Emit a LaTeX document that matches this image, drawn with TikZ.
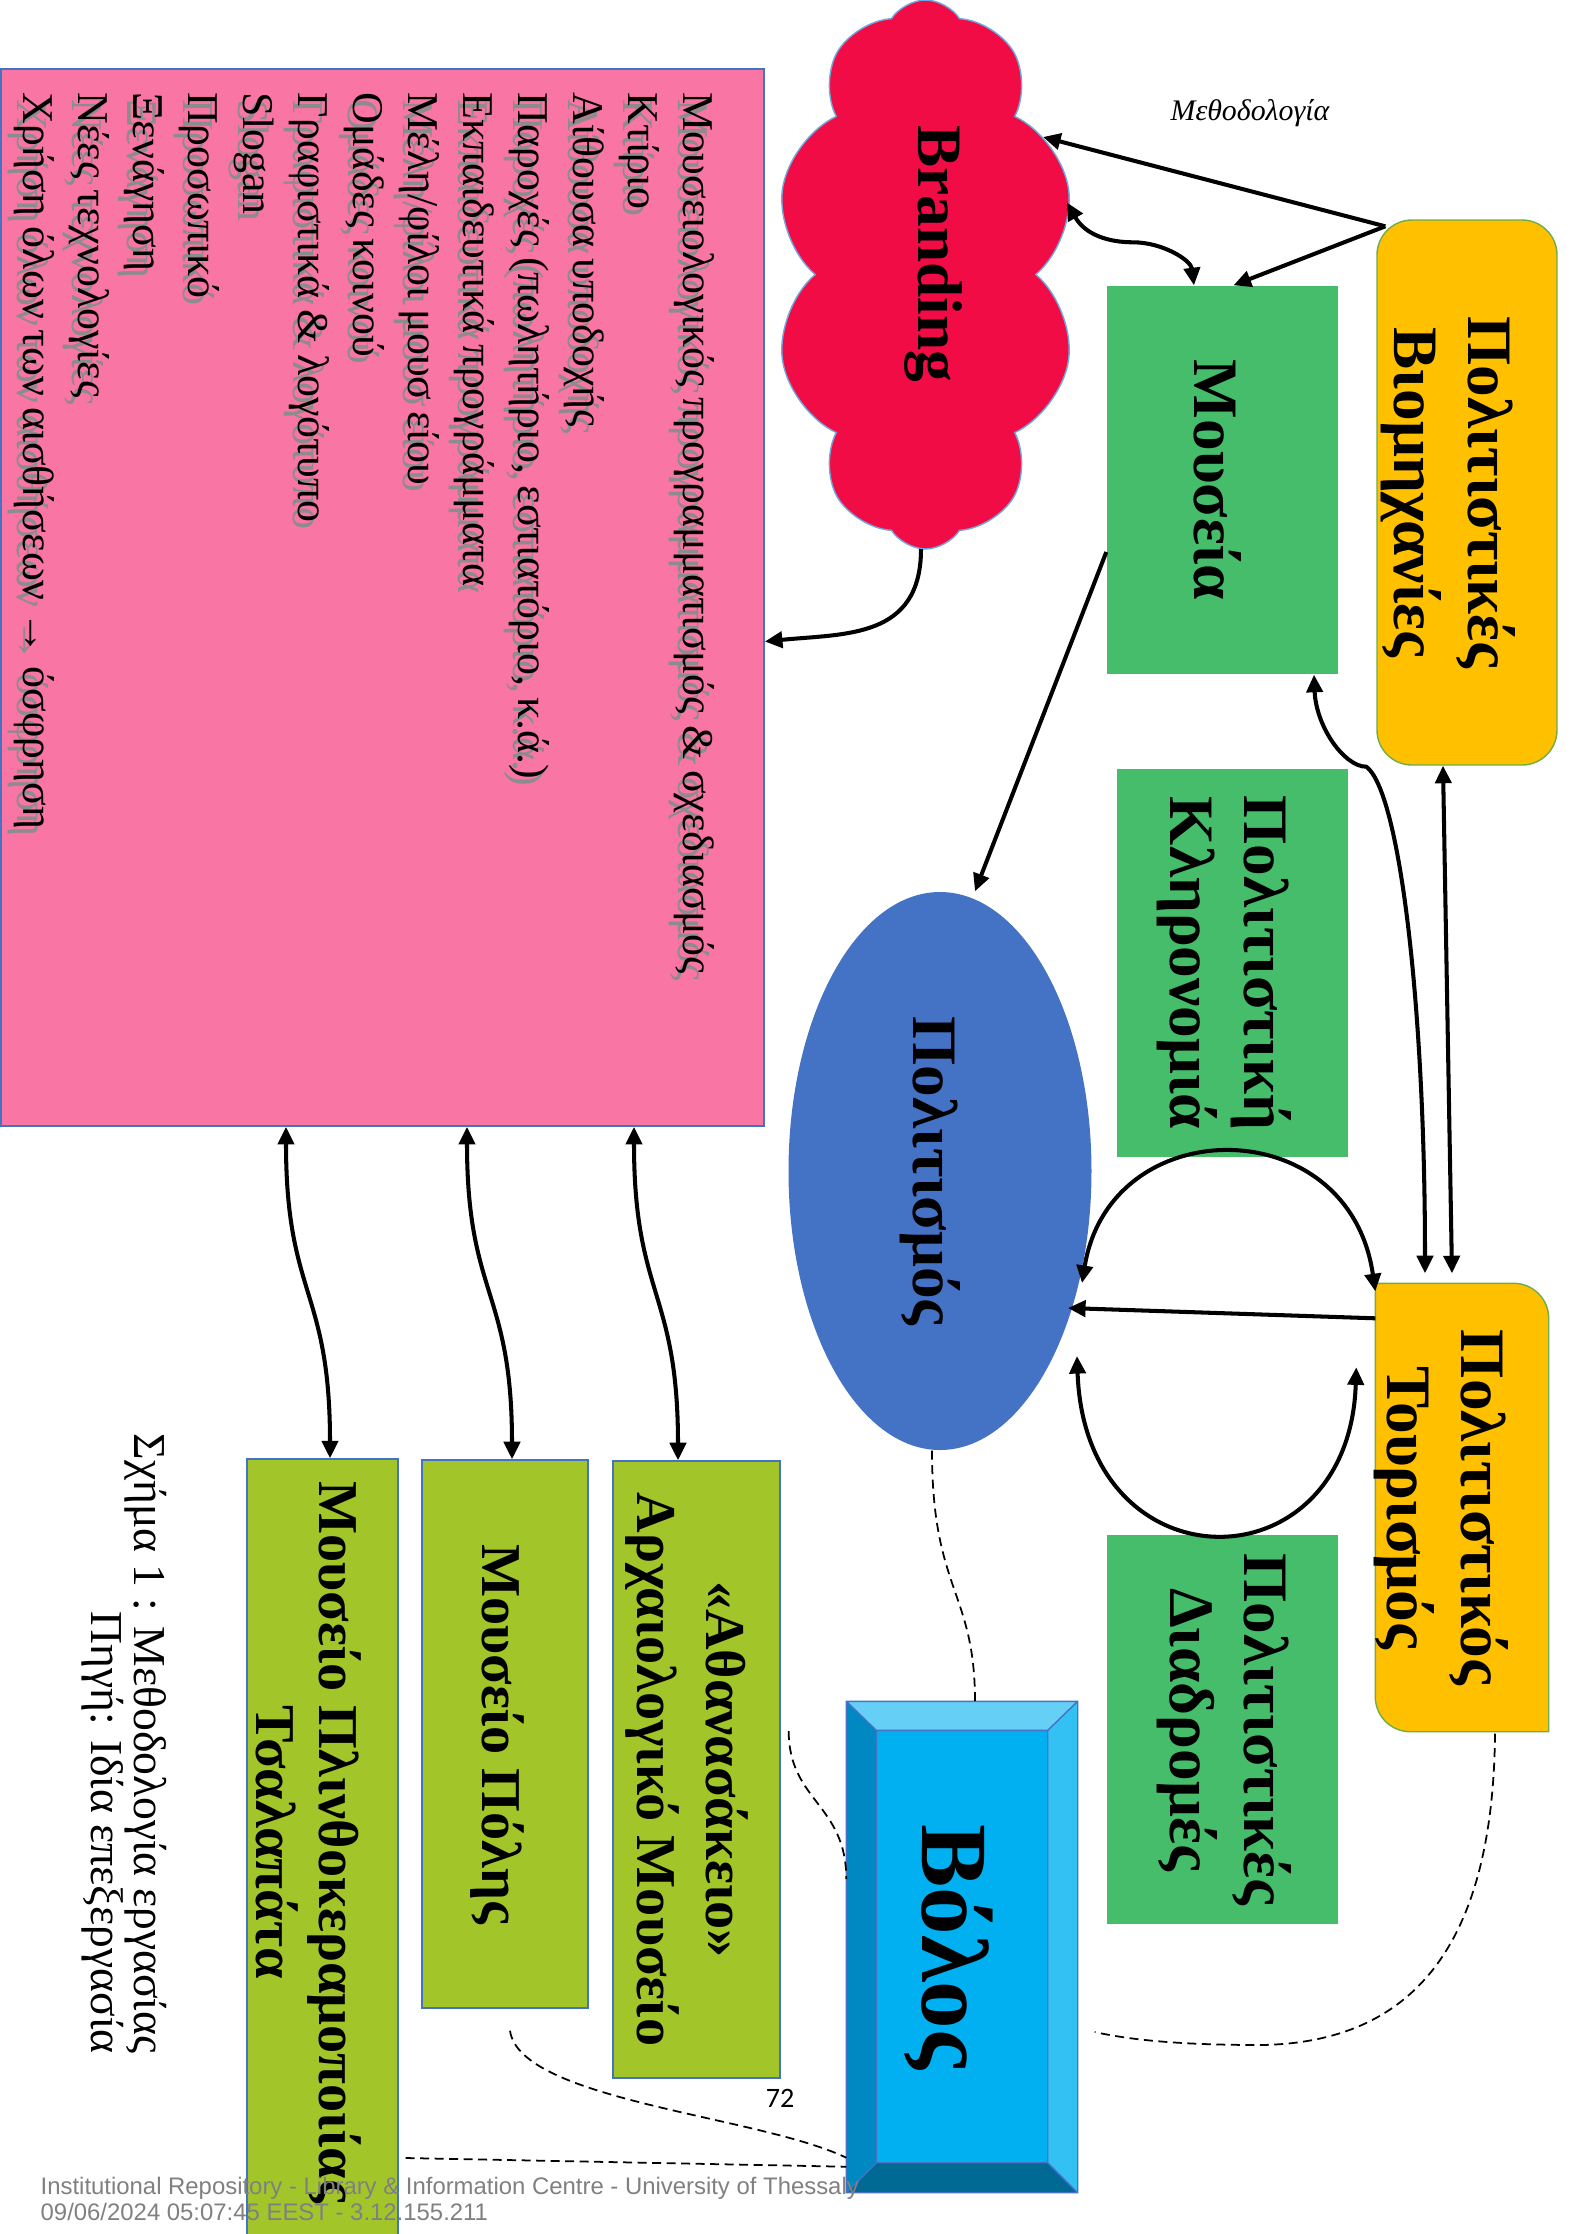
\documentclass[tikz,border=0pt]{standalone}
\usepackage{fontspec}
\setmainfont{Liberation Serif}
\newfontfamily\wmfont{Liberation Sans}
\newfontfamily\numfont{Carlito}
\usetikzlibrary{shapes.geometric,shapes.symbols,arrows.meta,calc}
\definecolor{pinkfill}{HTML}{F975A3}
\definecolor{cloudred}{HTML}{F20C46}
\definecolor{cloudedge}{HTML}{6FA8DC}
\definecolor{musgreen}{HTML}{45BD6B}
\definecolor{goldfill}{HTML}{FFC000}
\definecolor{cultblue}{HTML}{4472C4}
\definecolor{muslime}{HTML}{A2C62A}
\definecolor{edgeblue}{HTML}{4472C4}
\definecolor{edgegreen}{HTML}{70AD47}
\definecolor{bevmid}{HTML}{00B0F0}
\definecolor{bevtop}{HTML}{66CFF6}
\definecolor{bevright}{HTML}{33C0F3}
\definecolor{bevleft}{HTML}{0088C2}
\definecolor{bevbottom}{HTML}{006A94}
\definecolor{wmgray}{HTML}{808080}
\newcommand{\vlabel}[1]{\rotatebox{-90}{\begin{tabular}{@{}c@{}}#1\end{tabular}}}
\begin{document}
\begin{tikzpicture}[x=0.1mm, y=-0.1mm,
    arr/.style={line width=1.15pt, -{Triangle[length=5pt,width=4.6pt]}},
    dbl/.style={line width=1.15pt, {Triangle[length=5pt,width=4.6pt]}-{Triangle[length=5pt,width=4.6pt]}},
    dashlink/.style={line width=0.5pt, dash pattern=on 0.9mm off 0.55mm},
    bigtext/.style={inner sep=0pt, font=\fontsize{18}{21}\selectfont\bfseries},
    limetext/.style={inner sep=0pt, font=\fontsize{16}{19.5}\selectfont\bfseries},
    greenbox/.style={rectangle, fill=musgreen, inner sep=0pt, minimum width=23.1mm},
    limebox/.style={rectangle, fill=muslime, draw=edgeblue, line width=0.4pt, inner sep=0pt},
    listtxt/.style={rotate=-90, anchor=base west, inner sep=0pt, font=\fontsize{12.5}{15}\selectfont}]
\useasboundingbox (0,0) rectangle (1574,2234);

%Μουσειολογικός σχεδιασμός
\node[rectangle, fill=pinkfill, draw=edgeblue, line width=0.5pt, minimum width=76.3mm, minimum height=105.7mm] (prog) at (382.5,597.5) {};
\foreach \entry [count=\k from 0] in {Μουσειολογικός προγραμματισμός \& σχεδιασμός, Κτίριο, Αίθουσα υποδοχής, {Παροχές (πωλητήριο, εστιατόριο, κ.ά.)}, Εκπαιδευτικά προγράμματα, Μέλη/φίλοι μουσ είου, Ομάδες κοινού, Γραφιστικά \& λογότυπο, Slogan, Προσωπικό, Ξενάγηση, Νέες τεχνολογίες, Χρήση όλων των αισθήσεων → όσφρηση}{
  \node[listtxt, text=black!45] (shade\k) at ({678-55*\k},99) {\entry};
  \node[listtxt] (entry\k) at ({683-55*\k},92) {\entry};
}

%Branding
\node[cloud, cloud puffs=10, cloud puff arc=115, cloud ignores aspect, fill=cloudred, draw=cloudedge, line width=0.4pt, minimum width=30.1mm, minimum height=54.9mm, inner sep=0pt] (brand) at (925.5,274.5) {};
\node[bigtext] (brandtxt) at ($(brand)+(8,-21)$) {\vlabel{Branding}};
\node[font=\fontsize{8.5}{10}\selectfont\itshape] (method) at (1250,113) {Μεθοδολογία};

%Μουσεία, Βιομηχανίες
\node[greenbox, minimum height=38.8mm] (mus) at (1222.5,480) {};
\node[bigtext] (mustxt) at ($(mus)+(-13,0)$) {\vlabel{Μουσεία}};
\node[rectangle, rounded corners=3.5mm, fill=goldfill, draw=edgegreen, line width=0.4pt, minimum width=18mm, minimum height=54.5mm] (ind) at (1467,492.5) {};
\node[bigtext] (indtxt) at ($(ind)+(-21,0)$) {\vlabel{Πολιτιστικές\\Βιομηχανίες}};

%Κληρονομιά, Πολιτισμός
\node[greenbox, minimum height=38.8mm] (herit) at (1232.5,963) {};
\node[bigtext] (herittxt) at ($(herit)+(-10,0)$) {\vlabel{Πολιτιστική\\Κληρονομιά}};
\node[ellipse, fill=cultblue, inner sep=0pt, minimum width=30.3mm, minimum height=55.8mm] (cult) at (940,1171) {};
\node[bigtext] (culttxt) at ($(cult)+(-12,0)$) {\vlabel{Πολιτισμός}};

%Τουρισμός
\node[rectangle, minimum width=17.2mm, minimum height=44.7mm] (tour) at (1462,1507.5) {};
\filldraw[fill=goldfill, draw=edgegreen, line width=0.4pt] (tour.north west) -- ($(tour.north east)+(-35,0)$) arc[start angle=90, end angle=0, radius=3.5mm] -- (tour.south east) -- ($(tour.south west)+(35,0)$) arc[start angle=270, end angle=180, radius=3.5mm] -- cycle;
\node[bigtext] (tourtxt) at ($(tour)+(-23,0)$) {\vlabel{Πολιτιστικός\\Τουρισμός}};
\node[greenbox, minimum height=38.9mm] (route) at (1222.5,1729.5) {};
\node[bigtext] (routetxt) at (route) {\vlabel{Πολιτιστικές\\Διαδρομές}};

%Βόλος
\node[rectangle, inner sep=0pt, minimum width=23mm, minimum height=49mm] (volos) at (962,1947) {};
\fill[bevtop] (volos.north west) -- (volos.north east) -- ($(volos.north east)+(-30,29)$) -- ($(volos.north west)+(30,29)$) -- cycle;
\fill[bevright] (volos.north east) -- (volos.south east) -- ($(volos.south east)+(-30,-30)$) -- ($(volos.north east)+(-30,29)$) -- cycle;
\fill[bevbottom] (volos.south east) -- (volos.south west) -- ($(volos.south west)+(30,-30)$) -- ($(volos.south east)+(-30,-30)$) -- cycle;
\fill[bevleft] (volos.south west) -- (volos.north west) -- ($(volos.north west)+(30,29)$) -- ($(volos.south west)+(30,-30)$) -- cycle;
\fill[bevmid] ($(volos.north west)+(30,29)$) rectangle ($(volos.south east)+(-30,-30)$);
\draw[edgeblue, line width=0.4pt] (volos.north west) rectangle (volos.south east) ($(volos.north west)+(30,29)$) rectangle ($(volos.south east)+(-30,-30)$)
  (volos.north west) -- +(30,29) (volos.north east) -- +(-30,29) (volos.south east) -- +(-30,-30) (volos.south west) -- +(30,-30);
\node[inner sep=0pt, font=\fontsize{27}{30}\selectfont\bfseries] (volostxt) at ($(volos)+(-18,0)$) {\vlabel{Βόλος}};

%Μουσεία της πόλης
\node[limebox, minimum width=16.7mm, minimum height=61.7mm] (athan) at (696.5,1769.5) {};
\node[limetext] (athantxt) at ($(athan)+(-11,0)$) {\vlabel{«Αθανασάκειο»\\Αρχαιολογικό Μουσείο}};
\node[limebox, minimum width=16.6mm, minimum height=54.8mm] (polis) at (505,1734) {};
\node[limetext] (polistxt) at ($(polis)+(-9,0)$) {\vlabel{Μουσείο Πόλης}};
\node[limebox, minimum width=15.1mm, minimum height=78.2mm] (tsal) at (322.5,1850) {};
\node[limetext, font=\fontsize{16}{17.9}\selectfont\bfseries] (tsaltxt) at ($(tsal)+(-22,-8)$) {\vlabel{Μουσείο Πλινθοκεραμοποιίας\\Τσαλαπάτα}};

%Βέλη
\draw[arr] ($(ind.north west)+(9,7)$) -- ($(brand)+(117.5,-137.5)$);
\draw[arr] ($(ind.north west)+(9,7)$) -- ($(mus.north)+(11,0)$);
\draw[dbl] ($(brand)+(141.5,-72)$) .. controls +(18,32) and +(-25,0) .. ($(mus.north)+(-89.5,-43)$) .. controls +(30,0) and +(-3,-25) .. ($(mus.north)+(-28.5,0)$);
\draw[arr] ($(mus.west)+(0,72)$) -- ($(cult.north)+(35,0)$);
\draw[dbl] ($(mus.south)+(91.5,0)$) .. controls +(2,52) and +(-22,0) .. ($(ind.south west)+(-10,1)$) .. controls +(33,24) and +(0,-270) .. ($(tour.north)+(-37,-10)$);
\draw[dbl] ($(ind.south)+(-24,0)$) -- ($(tour.north)+(-10,-10)$);
\draw[dbl] ($(cult)+(142,112)$) .. controls +(28,-173) and +(-26,-182) .. ($(tour.north west)+(0,8)$);
\draw[arr] ($(tour.north west)+(0,35)$) -- ($(cult)+(128,137)$);
\draw[dbl] ($(cult)+(137,185)$) .. controls +(8,234) and +(-7,222) .. ($(tour.north west)+(-19,84)$);
\draw[arr] ($(brand)+(-4.5,274.5)$) .. controls +(0,90) and +(80,-8) .. ($(prog.east)+(0,44)$);
\draw[dbl] ($(prog.south)+(-96.5,0)$) .. controls +(0,170) and +(0,-170) .. ($(tsal.north)+(7.5,0)$);
\draw[dbl] ($(prog.south)+(84.5,0)$) .. controls +(0,170) and +(0,-170) .. ($(polis.north)+(7,0)$);
\draw[dbl] ($(prog.south)+(251.5,0)$) .. controls +(0,170) and +(0,-170) .. ($(athan.north)+(-18.5,0)$);

%Διακεκομμένες
\coordinate (tourend) at ($(volos.east)+(17,85)$);
\draw[dashlink] ($(cult.south)+(-8,0)$) .. controls +(0,140) and +(0,-110) .. ($(volos.north)+(13,0)$);
\draw[dashlink] ($(athan.east)+(8,-38.5)$) .. controls +(0,70) and +(0,-75) .. ($(volos.west)+(0,-68)$);
\draw[dashlink] ($(polis.south)+(5,22)$) .. controls +(10,70) and +(-87,-42) .. ($(volos.south west)+(0,-35)$);
\draw[dashlink] ($(tsal.east)+(7,308)$) -- ($(volos.south west)+(0,-26)$);
\draw[dashlink] ($(tour.south)+(33,2)$) .. controls +(-2,227) and +(140,-2) .. ($(volos.east)+(183,98)$) .. controls +(-80,0) and +(36,8) .. (tourend);

%Λεζάντα
\node[rotate=-90, anchor=base east, inner sep=0pt, font=\fontsize{13}{15}\selectfont] (cap1) at (134,2054) {Σχήμα 1 : Μεθοδολογία εργασίας};
\node[rotate=-90, anchor=base east, inner sep=0pt, font=\fontsize{13}{15}\selectfont] (cap2) at (91,2054) {Πηγή: Ιδία επεξεργασία};
\node[font=\fontsize{8}{9}\selectfont\numfont] (pagenum) at (780,2098) {72};
\node[anchor=base west, inner sep=0pt, text=wmgray, font=\fontsize{6.8}{8}\selectfont\wmfont] (wm1) at (40,2194) {Institutional Repository - Library \& Information Centre - University of Thessaly};
\node[anchor=base west, inner sep=0pt, text=wmgray, font=\fontsize{6.8}{8}\selectfont\wmfont] (wm2) at (40,2220) {09/06/2024 05:07:45 EEST - 3.12.155.211};
\end{tikzpicture}
\end{document}
